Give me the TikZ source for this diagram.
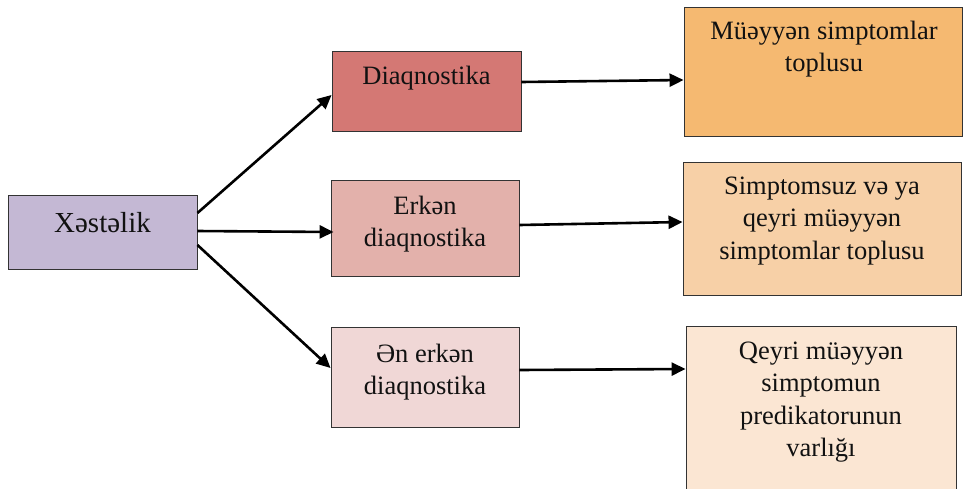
\documentclass[tikz,border=0pt]{standalone}
\usepackage{fontspec}
\setmainfont{Liberation Serif}
\usetikzlibrary{arrows.meta,calc}
\definecolor{cX}{HTML}{C4B8D4}
\definecolor{cDa}{HTML}{D47874}
\definecolor{cDb}{HTML}{E3B1AB}
\definecolor{cDc}{HTML}{F0D7D6}
\definecolor{cRa}{HTML}{F5B971}
\definecolor{cRb}{HTML}{F7D0A7}
\definecolor{cRc}{HTML}{FBE6D3}
\definecolor{ink}{HTML}{111111}
\begin{document}
\begin{tikzpicture}[x=1pt,y=-1pt,
  box/.style={draw=black!80,line width=0.9pt,rectangle,inner sep=0pt},
  txt/.style={font=\fontsize{26.5}{32.5}\selectfont,align=center,inner sep=0pt,text=ink},
  arr/.style={line width=2.6pt,-{Triangle[length=14pt,width=13pt]}}]
\useasboundingbox (0,0) rectangle (963,488);
\clip (0,0) rectangle (963,488);
\node[box,fill=cX,minimum width=189pt,minimum height=74pt] (xs) at (102.5,232) {};
\node[txt,font=\fontsize{29}{34}\selectfont] (xst) at (102.5,223) {Xəstəlik};
\node[box,fill=cDa,minimum width=189pt,minimum height=80pt] (d1) at (426.5,91) {};
\node[txt] (d1t) at (426.5,78) {Diaqnostika};
\node[box,fill=cDb,minimum width=188pt,minimum height=96pt] (d2) at (425,228) {};
\node[txt] (d2t) at (425,224) {Erkən\\diaqnostika};
\node[box,fill=cDc,minimum width=188pt,minimum height=100pt] (d3) at (425,377) {};
\node[txt] (d3t) at (425,372) {Ən erkən\\diaqnostika};
\node[box,fill=cRa,minimum width=278pt,minimum height=129pt] (r1) at (823,71.5) {};
\node[txt] (r1t) at (824,49) {Müəyyən simptomlar\\toplusu};
\node[box,fill=cRb,minimum width=278pt,minimum height=133pt] (r2) at (822,228.5) {};
\node[txt] (r2t) at (822,221) {Simptomsuz və ya\\qeyri müəyyən\\simptomlar toplusu};
\node[box,fill=cRc,minimum width=270pt,minimum height=194pt] (r3) at (821,423) {};
\node[txt] (r3t) at (821,402) {Qeyri müəyyən\\simptomun\\predikatorunun\\varlığı};
\draw[arr] ($(xs.east)+(0,-19)$) -- ($(d1.west)+(0,4)$);
\draw[arr] ($(xs.east)+(0,-1)$) -- ($(d2.west)+(3,4)$);
\draw[arr] ($(xs.east)+(0,13)$) -- ($(d3.west)+(0,-9)$);
\draw[arr] ($(d1.east)+(0,-9)$) -- ($(r1.west)+(0,8.5)$);
\draw[arr] ($(d2.east)+(0,-3)$) -- ($(r2.west)+(0,-6.5)$);
\draw[arr] ($(d3.east)+(0,-7)$) -- ($(r3.west)+(0,-54)$);
\end{tikzpicture}
\end{document}
